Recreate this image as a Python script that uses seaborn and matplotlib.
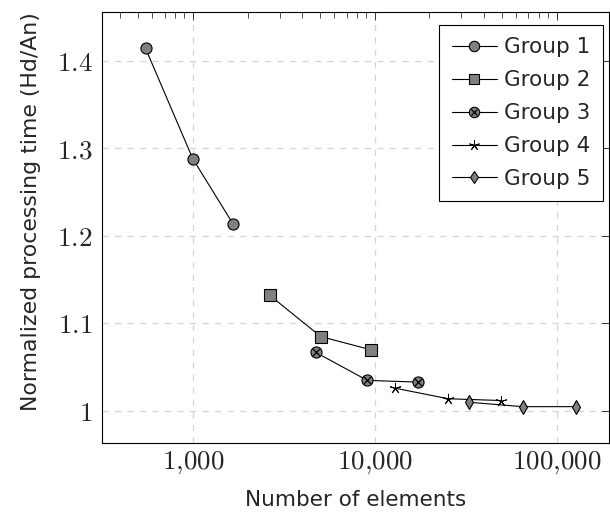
import numpy as np
import pandas as pd
import seaborn as sns
import matplotlib
matplotlib.use("Agg")
import matplotlib.pyplot as plt
from matplotlib.lines import Line2D
from matplotlib.ticker import FixedLocator, LogLocator, NullFormatter
from matplotlib.legend_handler import HandlerTuple

groups = ["Group 1", "Group 2", "Group 3", "Group 4", "Group 5"]
g1_x = [550, 1000, 1660]
g1_y = [1.414, 1.288, 1.214]
g2_x = [2650, 5050, 9500]
g2_y = [1.132, 1.085, 1.070]
g3_x = [4740, 9100, 17300]
g3_y = [1.067, 1.035, 1.033]
g4_x = [13000, 25400, 49300]
g4_y = [1.026, 1.014, 1.012]
g5_x = [33000, 65000, 128000]
g5_y = [1.010, 1.005, 1.005]
y_ticks = [1.0, 1.1, 1.2, 1.3, 1.4]
y_tick_labels = ["1", "1.1", "1.2", "1.3", "1.4"]
x_ticks = [1000, 10000, 100000]
x_tick_labels = ["1,000", "10,000", "100,000"]

sns.set_theme(style="white")
plt.rcParams['font.family'] = ['DejaVu Sans']
plt.rcParams['mathtext.fontset'] = 'cm'

fig = plt.figure(figsize=(6.1, 5.15), dpi=100)
ax = fig.add_axes([102/610, 1 - 443/515, (610 - 102)/610 - 0.002, (443 - 12)/515])

xs = [g1_x, g2_x, g3_x, g4_x, g5_x]
ys = [g1_y, g2_y, g3_y, g4_y, g5_y]
markers = ["o", "s", "o", (5, 2), "d"]
sizes = [8, 8, 8, 8, 7]
gray = "#808080"

handles = []
for i, (name, x, y) in enumerate(zip(groups, xs, ys)):
    df = pd.DataFrame({"x": x, "y": y})
    mfc = gray if i != 3 else "black"
    mew = 0.8 if i != 3 else 0.7
    sns.lineplot(data=df, x="x", y="y", ax=ax, color="black", linewidth=0.8,
                 marker=markers[i], markersize=sizes[i], markerfacecolor=mfc,
                 markeredgecolor="black", markeredgewidth=mew, zorder=3)
    h = Line2D([], [], color="black", linewidth=0.8, marker=markers[i],
               markersize=sizes[i] - 0.5, markerfacecolor=mfc,
               markeredgecolor="black", markeredgewidth=mew)
    if i == 2:
        sns.scatterplot(data=df, x="x", y="y", ax=ax, marker="x", s=28,
                        color="black", linewidth=0.9, zorder=4)
        hx = Line2D([], [], linestyle="none", marker="x", markersize=5,
                    color="black", markeredgewidth=0.9)
        h = (h, hx)
    handles.append(h)

ax.set_xscale("log")
ax.set_xlim(317, 193500)
ax.set_ylim(0.9635, 1.4555)

ax.xaxis.set_major_locator(FixedLocator(x_ticks))
ax.set_xticklabels([r"$%s$" % t.replace(",", "{,}") for t in x_tick_labels], fontsize=19.5)
ax.xaxis.set_minor_locator(LogLocator(base=10, subs=np.arange(2, 10)))
ax.xaxis.set_minor_formatter(NullFormatter())
ax.set_yticks(y_ticks)
ax.set_yticklabels([r"$%s$" % t for t in y_tick_labels], fontsize=19.5)

ax.tick_params(which="both", direction="in", top=True, right=True, color="#333333")
ax.tick_params(which="major", length=6, width=0.7)
ax.tick_params(axis="x", which="major", pad=5)
ax.tick_params(axis="y", which="major", pad=7)
ax.tick_params(which="minor", length=4, width=0.6)
ax.tick_params(axis="y", which="minor", left=False, right=False)

ax.grid(True, which="major", linestyle=(0, (5, 5)), color="#d5d5d5", linewidth=0.9)
for s in ax.spines.values():
    s.set_color("black")
    s.set_linewidth(0.8)

ax.set_xlabel("Number of elements", fontsize=15.5)
ax.set_ylabel("Normalized processing time (Hd/An)", fontsize=15.8)
ax.xaxis.set_label_coords(0.5, -0.109)
ax.yaxis.set_label_coords(-0.12, 0.536)

leg = ax.legend(handles, groups, loc="upper right", fontsize=15.5, frameon=True,
                fancybox=False, edgecolor="black", framealpha=1,
                handlelength=2.1, handletextpad=0.35, borderpad=0.57,
                labelspacing=0.6, borderaxespad=0,
                bbox_to_anchor=(0.9888, 0.9698),
                handler_map={tuple: HandlerTuple(ndivide=1)})
leg.get_frame().set_linewidth(0.8)

fig.savefig("out.png", dpi=100)
